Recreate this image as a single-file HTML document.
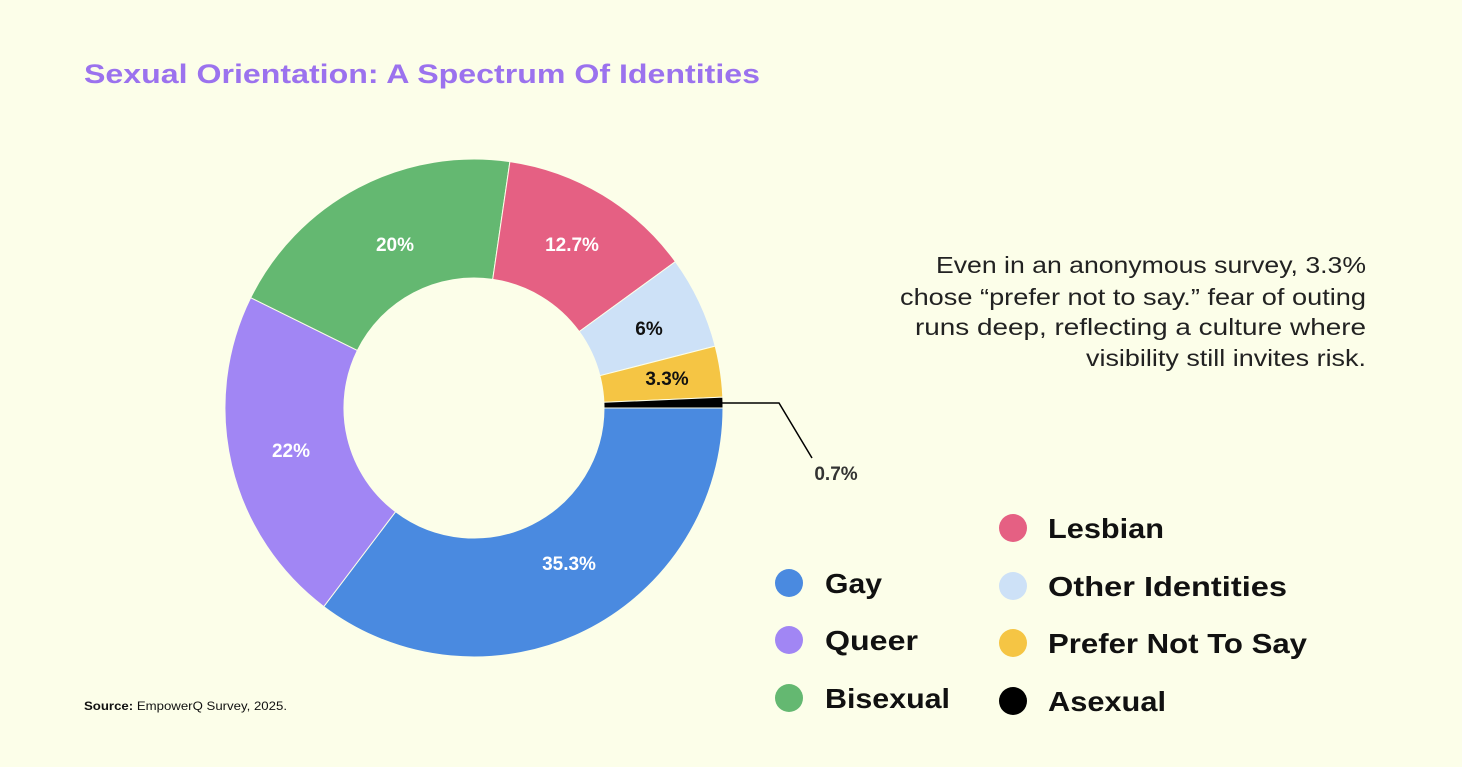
<!DOCTYPE html>
<html><head><style>
body{margin:0;background:#fcfee9;width:1462px;height:762px;overflow:hidden;font-family:"Liberation Sans",sans-serif;}
</style></head><body>
<svg width="1462" height="762" xmlns="http://www.w3.org/2000/svg" font-family="Liberation Sans, sans-serif">
<rect width="1462" height="762" fill="#fcfee9"/>
<text x="84" y="83" font-size="27" font-weight="bold" fill="#9b72ee" textLength="676" lengthAdjust="spacingAndGlyphs">Sexual Orientation: A Spectrum Of Identities</text>
<g stroke="#fcfee9" stroke-width="1">
<path d="M723,408 A249,249 0 0 1 323.8,606.6 L395.6,511.7 A130,130 0 0 0 604,408 Z" fill="#4a8ae0"/>
<path d="M323.8,606.6 A249,249 0 0 1 250.7,297.7 L357.4,350.4 A130,130 0 0 0 395.6,511.7 Z" fill="#a186f4"/>
<path d="M250.7,297.7 A249,249 0 0 1 509.9,161.6 L492.7,279.4 A130,130 0 0 0 357.4,350.4 Z" fill="#64b871"/>
<path d="M509.9,161.6 A249,249 0 0 1 675.4,261.6 L579.2,331.6 A130,130 0 0 0 492.7,279.4 Z" fill="#e56083"/>
<path d="M675.4,261.6 A249,249 0 0 1 715.2,346.1 L599.9,375.7 A130,130 0 0 0 579.2,331.6 Z" fill="#cde1f7"/>
<path d="M715.2,346.1 A249,249 0 0 1 722.8,397.1 L603.9,402.3 A130,130 0 0 0 599.9,375.7 Z" fill="#f5c544"/>
<path d="M722.8,397.1 A249,249 0 0 1 723,408 L604,408 A130,130 0 0 0 603.9,402.3 Z" fill="#000"/>
</g>
<polyline points="722,403 779,403 812,458" fill="none" stroke="#000" stroke-width="1.5"/>
<g font-size="19" font-weight="bold" text-anchor="middle">
<text x="395" y="251" fill="#fff">20%</text>
<text x="572" y="251" fill="#fff">12.7%</text>
<text x="649" y="335" fill="#111">6%</text>
<text x="667" y="385" fill="#111">3.3%</text>
<text x="291" y="457" fill="#fff">22%</text>
<text x="569" y="570" fill="#fff">35.3%</text>
<text x="836" y="480" fill="#333">0.7%</text>
</g>
<g font-size="23" fill="#222">
<text x="936" y="273" textLength="430" lengthAdjust="spacingAndGlyphs">Even in an anonymous survey, 3.3%</text>
<text x="900" y="305" textLength="466" lengthAdjust="spacingAndGlyphs">chose “prefer not to say.” fear of outing</text>
<text x="915" y="335" textLength="451" lengthAdjust="spacingAndGlyphs">runs deep, reflecting a culture where</text>
<text x="1086" y="366" textLength="280" lengthAdjust="spacingAndGlyphs">visibility still invites risk.</text>
</g>
<g font-size="28" font-weight="bold" fill="#111">
<circle cx="789" cy="583" r="14" fill="#4a8ae0"/><text x="825" y="593" textLength="57" lengthAdjust="spacingAndGlyphs">Gay</text>
<circle cx="789" cy="640" r="14" fill="#a186f4"/><text x="825" y="650" textLength="93" lengthAdjust="spacingAndGlyphs">Queer</text>
<circle cx="789" cy="698" r="14" fill="#64b871"/><text x="825" y="708" textLength="125" lengthAdjust="spacingAndGlyphs">Bisexual</text>
<circle cx="1013" cy="528" r="14" fill="#e56083"/><text x="1048" y="538" textLength="116" lengthAdjust="spacingAndGlyphs">Lesbian</text>
<circle cx="1013" cy="586" r="14" fill="#cde1f7"/><text x="1048" y="596" textLength="239" lengthAdjust="spacingAndGlyphs">Other Identities</text>
<circle cx="1013" cy="643" r="14" fill="#f5c544"/><text x="1048" y="653" textLength="259" lengthAdjust="spacingAndGlyphs">Prefer Not To Say</text>
<circle cx="1013" cy="701" r="14" fill="#000"/><text x="1048" y="711" textLength="118" lengthAdjust="spacingAndGlyphs">Asexual</text>
</g>
<text x="84" y="710" font-size="12" fill="#111" textLength="203" lengthAdjust="spacingAndGlyphs"><tspan font-weight="bold">Source:</tspan> EmpowerQ Survey, 2025.</text>
</svg>
</body></html>
